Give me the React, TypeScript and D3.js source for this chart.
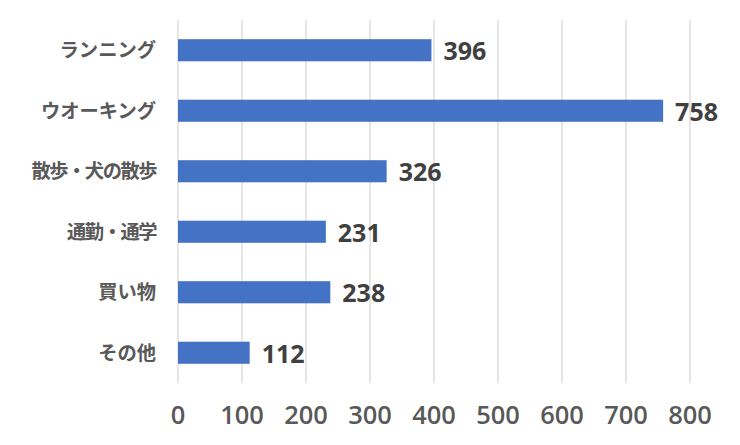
import React from 'react';
import * as d3 from 'd3';

const categories = ['ランニング', 'ウオーキング', '散歩・犬の散歩', '通勤・通学', '買い物', 'その他'];
const values = [396, 758, 326, 231, 238, 112];
const ticks = [0, 100, 200, 300, 400, 500, 600, 700, 800];

const W = 740;
const H = 445;
const margin = { top: 20, right: 50, bottom: 62, left: 178 };
const FONT = '"Noto Sans CJK JP", "Noto Sans", sans-serif';
const NUM_FONT = '"Open Sans", "Noto Sans", sans-serif';

const App: React.FC = () => {
  const x = d3.scaleLinear().domain([0, 800]).range([margin.left, 690]);
  const y = d3.scaleBand<string>()
    .domain(categories)
    .range([margin.top, H - margin.bottom])
    .paddingInner(0.635)
    .paddingOuter(0.3175);

  return (
    <svg width={W} height={H} style={{ position: 'absolute', left: 0, top: 0, background: '#fff' }}>
      {/* gridlines */}
      <g>
        {ticks.map(t => (
          <line key={t} x1={x(t)} x2={x(t)} y1={margin.top} y2={H - margin.bottom}
            stroke="#d9d9d9" strokeWidth={1.3} />
        ))}
      </g>

      {/* bars */}
      <g>
        {categories.map((c, i) => (
          <rect key={c} x={x(0)} y={y(c)} width={x(values[i]) - x(0)} height={y.bandwidth()}
            fill="#4472c4" />
        ))}
      </g>

      {/* value labels */}
      <g fontFamily={NUM_FONT} fontWeight={700} fontSize={25} fill="#404040">
        {categories.map((c, i) => (
          <text key={c} x={x(values[i]) + 12} y={(y(c) ?? 0) + y.bandwidth() / 2 + 1} dy="0.36em">
            {values[i]}
          </text>
        ))}
      </g>

      {/* category labels */}
      <g fontFamily={FONT} fontWeight={700} fontSize={19.3} fill="#595959" textAnchor="end">
        {categories.map(c => (
          <text key={c} x={156} y={(y(c) ?? 0) + y.bandwidth() / 2} dy="0.36em"
            letterSpacing={c.includes('・') ? -1.5 : 0}>{c}</text>
        ))}
      </g>

      {/* x axis tick labels */}
      <g fontFamily={NUM_FONT} fontWeight={600} fontSize={25.5} fill="#595959" textAnchor="middle">
        {ticks.map(t => (
          <text key={t} x={x(t)} y={415} dy="0.36em">{t}</text>
        ))}
      </g>
    </svg>
  );
};

export default App;
